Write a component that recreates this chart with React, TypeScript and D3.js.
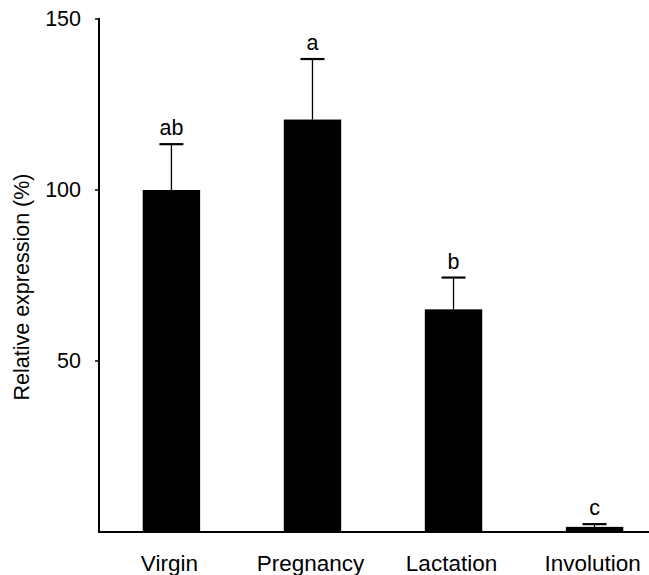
import React from 'react';
import * as d3 from 'd3';

const categories = ['Virgin', 'Pregnancy', 'Lactation', 'Involution'];
const means = [100, 120.6, 65.1, 1.5];
const errors = [13.4, 17.7, 9.3, 0.8];
const letters = ['ab', 'a', 'b', 'c'];
const yTicks = [50, 100, 150];

const W = 649, H = 575;
const FONT = 'Liberation Sans, Arial, sans-serif';

export default function App() {
  const axisX = 99;
  const x = d3.scaleBand<string>().domain(categories).range([axisX, 667])
    .paddingInner(0.593).paddingOuter(0.31);
  const y = d3.scaleLinear().domain([0, 150]).range([532, 19]);
  const bw = x.bandwidth();

  return (
    <svg width={W} height={H} style={{ position: 'absolute', left: 0, top: 0, background: '#fff' }}
      fontFamily={FONT}>
      {/* bars + error bars */}
      {categories.map((c, i) => {
        const x0 = x(c)!;
        const cx = x0 + bw / 2;
        const top = y(means[i] + errors[i]);
        return (
          <g key={c}>
            <rect x={x0} y={y(means[i])} width={bw} height={y(0) - y(means[i])} fill="#000" />
            <line x1={cx} x2={cx} y1={y(means[i])} y2={top} stroke="#000" strokeWidth={1.3} />
            <line x1={cx - 12} x2={cx + 12} y1={top} y2={top} stroke="#000" strokeWidth={2.2} />
            <text x={cx} y={top - 9} textAnchor="middle" fontSize={21.5}>{letters[i]}</text>
            <text x={cx - 2} y={571} textAnchor="middle" fontSize={22.5}>{c}</text>
          </g>
        );
      })}
      {/* y axis */}
      <line x1={axisX} x2={axisX} y1={y(150) - 1} y2={y(0) + 1} stroke="#000" strokeWidth={2} />
      <line x1={axisX} x2={W} y1={y(0)} y2={y(0)} stroke="#000" strokeWidth={2} />
      {yTicks.map(t => (
        <g key={t}>
          <line x1={axisX - 4} x2={axisX} y1={y(t)} y2={y(t)} stroke="#000" strokeWidth={1.5} />
          <text x={81} y={y(t)} textAnchor="end" dominantBaseline="central" fontSize={21.5}>{t}</text>
        </g>
      ))}
      <text transform={`translate(29,287) rotate(-90)`} textAnchor="middle" fontSize={21.5}>
        Relative expression (%)
      </text>
    </svg>
  );
}
